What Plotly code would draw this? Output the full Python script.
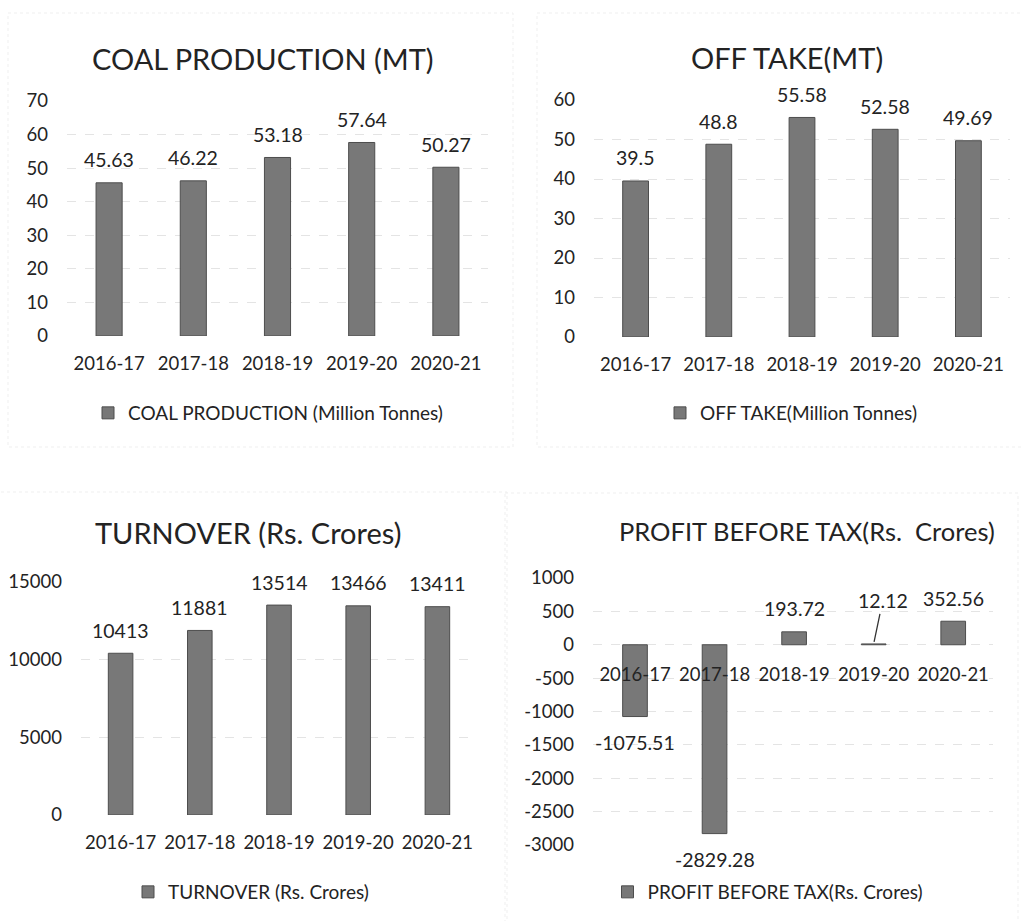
import plotly.graph_objects as go

years = ["2016-17", "2017-18", "2018-19", "2019-20", "2020-21"]
coal_production = [45.63, 46.22, 53.18, 57.64, 50.27]
off_take = [39.5, 48.8, 55.58, 52.58, 49.69]
turnover = [10413, 11881, 13514, 13466, 13411]
profit_before_tax = [-1075.51, -2829.28, 193.72, 12.12, 352.56]

coal_labels = ["45.63", "46.22", "53.18", "57.64", "50.27"]
off_take_labels = ["39.5", "48.8", "55.58", "52.58", "49.69"]
turnover_labels = ["10413", "11881", "13514", "13466", "13411"]
pbt_labels = ["-1075.51", "-2829.28", "193.72", "12.12", "352.56"]

pbt_tick_values = [1000, 500, 0, -500, -1000, -1500, -2000, -2500, -3000]
pbt_tick_labels = ["1000", "500", "0", "-500", "-1000", "-1500", "-2000",
                   "-2500", "-3000"]

W, H = 1021, 921
FONT = "Lato"
TXT = "#232323"
BAR = "#787878"
EDGE = "#4d4d4d"
GRID = "#e4e4e4"


def px(x):
    return x / W


def py(y):
    return 1 - y / H


fig = go.Figure()

panels = [
    ("COAL PRODUCTION (Million Tonnes)", coal_production, coal_labels, "", "legend"),
    ("OFF TAKE(Million Tonnes)", off_take, off_take_labels, "2", "legend2"),
    ("TURNOVER (Rs. Crores)", turnover, turnover_labels, "3", "legend3"),
    ("PROFIT BEFORE TAX(Rs. Crores)", profit_before_tax, pbt_labels, "4", "legend4"),
]

for name, vals, labels, sfx, leg in panels:
    fig.add_trace(go.Bar(
        x=years, y=vals, name=name,
        xaxis="x" + sfx, yaxis="y" + sfx,
        marker=dict(color=BAR, line=dict(color=EDGE, width=1)),
        showlegend=True, legend=leg, hoverinfo="skip",
    ))
    for yr, v, lab in zip(years, vals, labels):
        if lab == "12.12":
            fig.add_annotation(
                x=yr, y=v, xref="x" + sfx, yref="y" + sfx, text=lab,
                showarrow=True, ax=9, ay=-43, arrowhead=0, arrowwidth=1.3,
                arrowcolor="#333333", standoff=2,
                font=dict(family=FONT, size=19.5, color=TXT),
            )
        else:
            shift = 23 if v >= 0 else -26
            fig.add_annotation(
                x=yr, y=v, xref="x" + sfx, yref="y" + sfx, text=lab,
                showarrow=False, yshift=shift,
                font=dict(family=FONT, size=19.5, color=TXT),
            )

tick_font = dict(family=FONT, size=18.5, color=TXT)


def xaxis(domain, anchor, **kw):
    d = dict(domain=domain, anchor=anchor, type="category",
             showgrid=False, showline=False, zeroline=False, ticks="",
             tickfont=tick_font, ticklabelstandoff=14, automargin=False)
    d.update(kw)
    return d


def yaxis(domain, anchor, rng, dtick, **kw):
    d = dict(domain=domain, anchor=anchor, range=rng, dtick=dtick,
             showgrid=True, gridcolor=GRID, gridwidth=1, griddash="dash",
             zeroline=False, showline=False, ticks="", tickformat="d",
             tickfont=tick_font, ticklabelstandoff=18, automargin=False)
    d.update(kw)
    return d


fig.update_layout(
    xaxis=xaxis([px(67), px(488)], "y"),
    yaxis=yaxis([py(336), py(101)], "x", [0, 70], 10),
    xaxis2=xaxis([px(594), px(1010)], "y2"),
    yaxis2=yaxis([py(337), py(100)], "x2", [0, 60], 10),
    xaxis3=xaxis([px(81), px(477)], "y3"),
    yaxis3=yaxis([py(815), py(582)], "x3", [0, 15000], 5000),
    xaxis4=xaxis([px(593), px(993)], "free", position=py(645),
                 ticklabelstandoff=16),
    yaxis4=yaxis([py(845), py(578)], "x4", [-3000, 1000], 500,
                 tickmode="array", tickvals=pbt_tick_values,
                 ticktext=pbt_tick_labels),
)

legend_common = dict(orientation="h", xanchor="center", yanchor="middle",
                     bgcolor="rgba(0,0,0,0)", itemclick=False,
                     font=dict(family=FONT, size=19, color=TXT),
                     itemwidth=30)
fig.update_layout(
    legend=dict(x=px(268), y=py(413), **legend_common),
    legend2=dict(x=px(791), y=py(413), **legend_common),
    legend3=dict(x=px(251), y=py(892), **legend_common),
    legend4=dict(x=px(768), y=py(892), **legend_common),
)

titles = [
    ("COAL PRODUCTION (MT)", 263, 58, 29),
    ("OFF TAKE(MT)", 787, 57, 29),
    ("TURNOVER (Rs. Crores)", 248, 532, 29),
    ("PROFIT BEFORE TAX(Rs.  Crores)", 807, 531, 25.5),
]
for t, x, y, s in titles:
    fig.add_annotation(text=t, x=px(x), y=py(y), xref="paper", yref="paper",
                       showarrow=False, xanchor="center", yanchor="middle",
                       font=dict(family=FONT, size=s, color=TXT))

# faint chart-area frames from the scanned page
frames = [(8, 13, 513, 447), (537, 13, 1030, 447),
          (-5, 492, 507, 930), (505, 493, 1018, 930)]
for x0, y0, x1, y1 in frames:
    fig.add_shape(type="rect", xref="paper", yref="paper",
                  x0=px(x0), x1=px(x1), y0=py(y0), y1=py(y1),
                  line=dict(color="#efefef", width=1, dash="dot"),
                  layer="below")

fig.update_layout(
    width=W, height=H,
    margin=dict(l=0, r=0, t=0, b=0, autoexpand=False),
    paper_bgcolor="white", plot_bgcolor="white",
    bargap=0.69,
    font=dict(family=FONT, color=TXT),
)

fig.write_html("out.html", config={"displayModeBar": False},
               post_script="document.body.style.margin='0px';")
